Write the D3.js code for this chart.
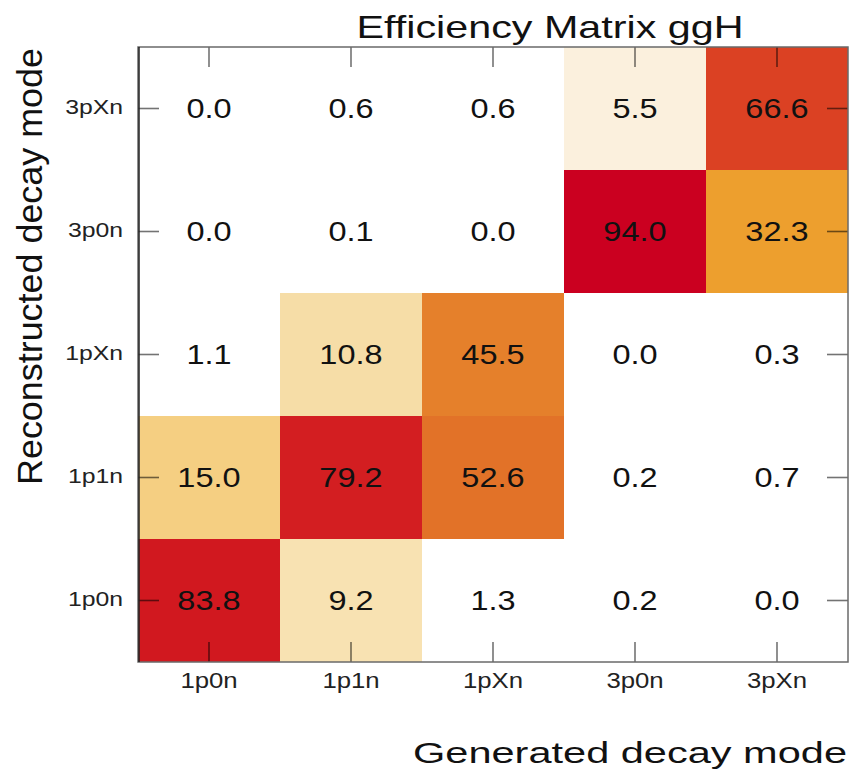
<!DOCTYPE html>
<html>
<head>
<meta charset="utf-8">
<script src="https://cdn.jsdelivr.net/npm/d3@7"></script>
<style>
  html, body { margin: 0; padding: 0; background: #fff; }
  svg { display: block; font-family: "Liberation Sans", Arial, Helvetica, sans-serif; }
</style>
</head>
<body>
<svg id="chart" width="852" height="769"></svg>
<script>
// Decay-mode categories (generated on x, reconstructed on y)
const generatedModes = ["1p0n", "1p1n", "1pXn", "3p0n", "3pXn"];
const reconstructedModes = ["1p0n", "1p1n", "1pXn", "3p0n", "3pXn"];

// Efficiency (%) per reconstructed mode, one entry per generated mode
const recoAs1p0n = [83.8, 9.2, 1.3, 0.2, 0.0];
const recoAs1p1n = [15.0, 79.2, 52.6, 0.2, 0.7];
const recoAs1pXn = [1.1, 10.8, 45.5, 0.0, 0.3];
const recoAs3p0n = [0.0, 0.1, 0.0, 94.0, 32.3];
const recoAs3pXn = [0.0, 0.6, 0.6, 5.5, 66.6];

// Colour palette stops (value in %, colour)
const paletteStops = [0, 1.5, 5.5, 9, 11, 15, 32, 45, 53, 67, 79, 84, 94, 100];
const paletteColors = ["#ffffff", "#ffffff", "#fbf0dd", "#f8e3b3", "#f6dca6", "#f5cf82",
                       "#eda02e", "#e5812b", "#e27128", "#db4023", "#d31e21", "#d1181f",
                       "#cb0020", "#c80020"];

const titleText = "Efficiency Matrix ggH";
const xTitleText = "Generated decay mode";
const yTitleText = "Reconstructed decay mode";

const rows = [recoAs1p0n, recoAs1p1n, recoAs1pXn, recoAs3p0n, recoAs3pXn];
const cells = [];
rows.forEach((vals, r) => vals.forEach((v, g) => cells.push({
  gen: generatedModes[g], reco: reconstructedModes[r], value: v
})));

const svg = d3.select("#chart");
const frame = { left: 138, right: 848, top: 47, bottom: 662 };

const x = d3.scaleBand().domain(generatedModes).range([frame.left, frame.right]).padding(0);
const y = d3.scaleBand().domain(reconstructedModes).range([frame.bottom, frame.top]).padding(0);
const color = d3.scaleLinear().domain(paletteStops).range(paletteColors).clamp(true);

// Stretch a text horizontally by factor sx, or to a fixed length
function stretch(sel, sx, len) {
  sel.each(function () {
    const w = len != null ? len : this.getComputedTextLength() * sx;
    d3.select(this).attr("textLength", w).attr("lengthAdjust", "spacingAndGlyphs");
  });
}

// Cells
svg.append("g").selectAll("rect").data(cells).join("rect")
  .attr("x", d => x(d.gen))
  .attr("y", d => y(d.reco))
  .attr("width", x.bandwidth())
  .attr("height", y.bandwidth())
  .attr("fill", d => color(d.value));

// Cell values
const valueLabels = svg.append("g").selectAll("text").data(cells).join("text")
  .attr("x", d => x(d.gen) + x.bandwidth() / 2)
  .attr("y", d => y(d.reco) + y.bandwidth() / 2 + 9.5)
  .attr("text-anchor", "middle")
  .attr("font-size", 28)
  .attr("fill", "#111")
  .text(d => d.value.toFixed(1));
stretch(valueLabels, 1.16);

// Axes with inward ticks on all four sides
const tickLen = 20;
const axisStyle = g => {
  g.select(".domain").remove();
  g.selectAll(".tick line").attr("stroke", "#000").attr("stroke-opacity", 0.55).attr("stroke-width", 1.6);
};

const bottomAxis = svg.append("g")
  .attr("transform", `translate(0,${frame.bottom})`)
  .call(d3.axisBottom(x).tickSizeInner(-tickLen).tickSizeOuter(0).tickPadding(0))
  .call(axisStyle);
bottomAxis.selectAll(".tick text")
  .attr("y", 26).attr("dy", 0)
  .attr("font-size", 22).attr("fill", "#222")
  .attr("font-family", "\"Liberation Sans\", Arial, sans-serif");
stretch(bottomAxis.selectAll(".tick text"), 1.17);

svg.append("g")
  .attr("transform", `translate(0,${frame.top})`)
  .call(d3.axisTop(x).tickSizeInner(-tickLen).tickSizeOuter(0).tickFormat(""))
  .call(axisStyle);

const leftAxis = svg.append("g")
  .attr("transform", `translate(${frame.left},0)`)
  .call(d3.axisLeft(y).tickSizeInner(-21).tickSizeOuter(0).tickPadding(0))
  .call(axisStyle);
leftAxis.selectAll(".tick text")
  .attr("x", -15).attr("dy", "0.27em")
  .attr("font-size", 21).attr("fill", "#222")
  .attr("font-family", "\"Liberation Sans\", Arial, sans-serif");
stretch(leftAxis.selectAll(".tick text"), 1.18);

svg.append("g")
  .attr("transform", `translate(${frame.right},0)`)
  .call(d3.axisRight(y).tickSizeInner(-21).tickSizeOuter(0).tickFormat(""))
  .call(axisStyle);

// Frame
svg.append("rect")
  .attr("x", frame.left).attr("y", frame.top)
  .attr("width", frame.right - frame.left).attr("height", frame.bottom - frame.top)
  .attr("fill", "none").attr("stroke", "#6a6a6a").attr("stroke-width", 1.5);
svg.append("line")
  .attr("x1", frame.left + 1).attr("x2", frame.left + 1)
  .attr("y1", frame.top).attr("y2", frame.bottom)
  .attr("stroke", "#222").attr("stroke-width", 1.5);

// Titles
const title = svg.append("text")
  .attr("x", 550).attr("y", 38)
  .attr("text-anchor", "middle")
  .attr("font-size", 32).attr("fill", "#111")
  .text(titleText);
stretch(title, null, 387);

const xTitle = svg.append("text")
  .attr("x", 847).attr("y", 763)
  .attr("text-anchor", "end")
  .attr("font-size", 29).attr("fill", "#111")
  .text(xTitleText);
stretch(xTitle, null, 434);

const yTitle = svg.append("text")
  .attr("transform", "translate(42,48) rotate(-90)")
  .attr("text-anchor", "end")
  .attr("font-size", 35).attr("fill", "#111")
  .text(yTitleText);
stretch(yTitle, null, 437);
</script>
</body>
</html>
